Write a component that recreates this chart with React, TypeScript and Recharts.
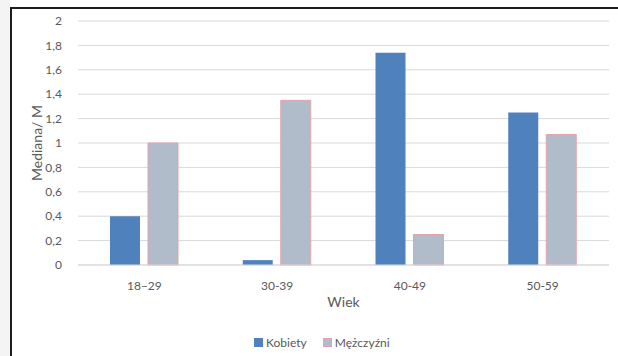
import React from 'react';
import { BarChart, Bar, XAxis, YAxis, CartesianGrid, Legend } from 'recharts';

const ageGroups = ['18–29', '30-39', '40-49', '50-59'];
const kobiety = [0.4, 0.04, 1.74, 1.25];
const mezczyzni = [1.0, 1.35, 0.25, 1.07];
const yTicks = [0, 0.2, 0.4, 0.6, 0.8, 1, 1.2, 1.4, 1.6, 1.8, 2];

const BLUE = '#4f81bd';
const GREY = '#b1bccb';
const PINK = '#e3a3aa';
const TEXT = '#595959';
const FONT = 'Lato, "Open Sans", sans-serif';

const data = ageGroups.map((wiek, i) => ({ wiek, kobiety: kobiety[i], mezczyzni: mezczyzni[i] }));

const fmt = (v: number) => String(v).replace('.', ',');

function LegendBox() {
  const item = (color: string, border: string, label: string) => (
    <span style={{ display: 'inline-flex', alignItems: 'center', marginRight: 16 }}>
      <span style={{ width: 7, height: 7, background: color, border: `1px solid ${border}`, marginRight: 3 }} />
      <span>{label}</span>
    </span>
  );
  return (
    <div style={{ fontFamily: FONT, fontSize: 12, color: TEXT, display: 'flex', whiteSpace: 'nowrap' }}>
      {item(BLUE, BLUE, 'Kobiety')}
      {item(GREY, PINK, 'Mężczyźni')}
    </div>
  );
}

export default function App() {
  return (
    <div style={{ position: 'fixed', left: 0, top: 0, width: 618, height: 356, background: '#fff', overflow: 'hidden' }}>
      <div style={{ position: 'absolute', left: 0, top: 0, width: 10, height: 356, background: '#f4f4f4' }} />
      <div style={{ position: 'absolute', left: 10, top: 7, width: 620, height: 360, borderLeft: '2px solid #1c1c1c', borderTop: '2px solid #1c1c1c' }} />
      <div style={{ position: 'absolute', left: 0, top: 0 }}>
        <BarChart
          width={618}
          height={356}
          data={data}
          margin={{ top: 21, right: 9, left: 18, bottom: 25 }}
          barSize={30}
          barGap={8}
        >
          <CartesianGrid vertical={false} stroke="#d9d9d9" strokeWidth={1} />
          <XAxis
            dataKey="wiek"
            axisLine={{ stroke: '#d9d9d9' }}
            tickLine={false}
            height={51}
            tick={{ fill: TEXT, fontSize: 12, fontFamily: FONT }}
            tickMargin={10}
            label={{ value: 'Wiek', position: 'insideTop', offset: 32, fill: TEXT, fontSize: 14, fontFamily: FONT }}
          />
          <YAxis
            domain={[0, 2]}
            ticks={yTicks}
            tickFormatter={fmt}
            axisLine={false}
            tickLine={false}
            width={60}
            tick={{ fill: TEXT, fontSize: 12, fontFamily: FONT }}
            tickMargin={10}
            label={{ value: 'Mediana/ M', angle: -90, position: 'insideLeft', offset: 19, fill: TEXT, fontSize: 14, fontFamily: FONT, style: { textAnchor: 'middle' } }}
          />
          <Legend
            verticalAlign="bottom"
            content={<LegendBox />}
            wrapperStyle={{ left: 254, bottom: 6, width: 160 }}
          />
          <Bar dataKey="kobiety" name="Kobiety" fill={BLUE} isAnimationActive={false} />
          <Bar dataKey="mezczyzni" name="Mężczyźni" fill={GREY} stroke={PINK} strokeWidth={1} isAnimationActive={false} />
        </BarChart>
      </div>
    </div>
  );
}
